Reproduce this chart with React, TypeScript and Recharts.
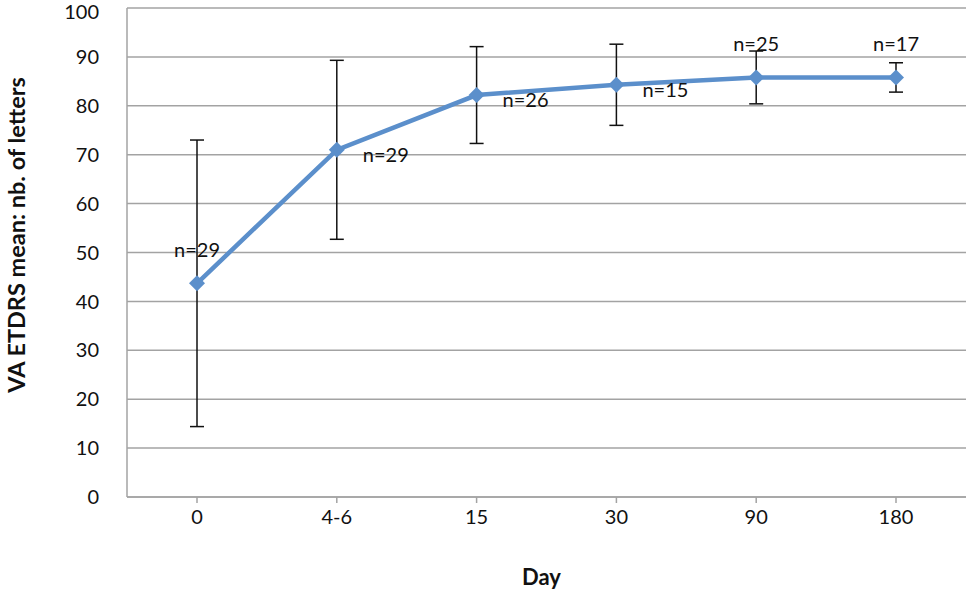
import { LineChart, Line, XAxis, YAxis, CartesianGrid, ErrorBar, LabelList } from 'recharts';

const days = ['0', '4-6', '15', '30', '90', '180'];
const meanLetters = [43.7, 71.0, 82.2, 84.3, 85.8, 85.8];
const sdLetters = [29.3, 18.3, 9.9, 8.3, 5.4, 3.0];
const patientCounts = [29, 29, 26, 15, 25, 17];
const labelSide = ['above', 'right', 'right', 'right', 'above', 'above'];
const yTicks = [0, 10, 20, 30, 40, 50, 60, 70, 80, 90, 100];

const data = days.map((d, i) => ({
  day: d,
  mean: meanLetters[i],
  sd: sdLetters[i],
  n: `n=${patientCounts[i]}`,
}));

const BLUE = '#5b8fcb';
const GRID = '#a3a3a3';
const FONT = 'Lato, "Open Sans", sans-serif';

const Diamond = (props: any) => {
  const { cx, cy, index } = props;
  if (cx == null || cy == null) return null;
  const r = 8;
  return (
    <path
      key={`dia-${index}`}
      d={`M${cx} ${cy - r} L${cx + r} ${cy} L${cx} ${cy + r} L${cx - r} ${cy} Z`}
      fill={BLUE}
    />
  );
};

const CountLabel = (props: any) => {
  const { x, y, index, value } = props;
  const side = labelSide[index];
  if (side === 'above') {
    return (
      <text x={x} y={y - 34} textAnchor="middle" dominantBaseline="central" fontSize={20} fontFamily={FONT} fill="#111">
        {value}
      </text>
    );
  }
  return (
    <text x={x + 26} y={y + 4} textAnchor="start" dominantBaseline="central" fontSize={20} fontFamily={FONT} fill="#111">
      {value}
    </text>
  );
};

// y title sits a bit above the plot centre, like the original
const YTitle = () => (
  <text
    transform="translate(16, 235) rotate(-90)"
    textAnchor="middle"
    dominantBaseline="central"
    fontSize={23.5}
    fontWeight="bold"
    fontFamily={FONT}
    fill="#111"
  >
    VA ETDRS mean: nb. of letters
  </text>
);

const App = () => {
  return (
    <div style={{ position: 'absolute', left: 0, top: 0, width: 968, height: 591, background: '#fff' }}>
      <LineChart width={968} height={591} data={data} margin={{ top: 8, right: 2, bottom: 0, left: 0 }}>
        <CartesianGrid vertical={false} stroke={GRID} strokeWidth={1.5} />
        <XAxis
          dataKey="day"
          padding={{ left: 70, right: 70 }}
          height={94}
          axisLine={{ stroke: GRID, strokeWidth: 1.5 }}
          tickLine={{ stroke: GRID, strokeWidth: 1.5 }}
          tickSize={6}
          tickMargin={7}
          tick={{ fill: '#111', fontSize: 20, fontFamily: FONT }}
          label={{ value: 'Day', position: 'insideBottom', offset: 6, dx: -5, style: { fill: '#111', fontSize: 22, fontWeight: 'bold', fontFamily: FONT } }}
        />
        <YAxis
          domain={[0, 100]}
          ticks={yTicks}
          width={127}
          axisLine={{ stroke: GRID, strokeWidth: 1.5 }}
          tickLine={false}
          tickMargin={22}
          tick={{ fill: '#111', fontSize: 20, fontFamily: FONT }}
          label={{ content: <YTitle /> }}
        />
        <Line
          type="linear"
          dataKey="mean"
          stroke={BLUE}
          strokeWidth={4.5}
          dot={<Diamond />}
          activeDot={false}
          isAnimationActive={false}
        >
          <ErrorBar dataKey="sd" direction="y" width={7} stroke="#111" strokeWidth={1.5} />
          <LabelList dataKey="n" content={<CountLabel />} />
        </Line>
      </LineChart>
    </div>
  );
};

export default App;
